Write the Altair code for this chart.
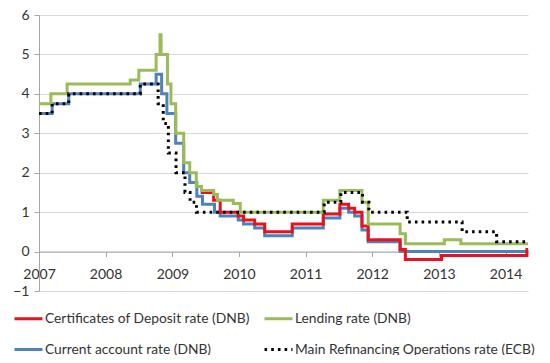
import altair as alt
import pandas as pd

series_names = [
    "Certificates of Deposit rate (DNB)",
    "Lending rate (DNB)",
    "Current account rate (DNB)",
    "Main Refinancing Operations rate (ECB)",
]
series_colors = ["#E3141B", "#9BBB59", "#4F81BD", "#000000"]
series_dashes = [[1, 0], [1, 0], [1, 0], [2.6, 4.1]]
draw_order = [2, 0, 1, 3]

cd_dates = ["2009-06-05", "2009-08-15", "2009-09-20", "2009-12-28", "2010-01-26",
            "2010-03-28", "2010-05-22", "2010-10-20", "2011-04-08", "2011-07-08",
            "2011-08-25", "2011-09-27", "2011-11-06", "2011-12-10", "2012-06-02",
            "2012-07-01", "2013-01-15", "2014-04-28", "2014-05-04"]
cd_values = [1.5, 1.3, 1.0, 0.9, 0.8, 0.7, 0.5, 0.7, 0.95, 1.2, 1.1, 1.0, 0.65, 0.3,
             0.05, -0.2, -0.1, 0.05, 0.05]

lend_dates = ["2007-01-01", "2007-03-07", "2007-06-04", "2008-05-15", "2008-07-01",
              "2008-10-04", "2008-10-25", "2008-10-31", "2008-12-05", "2008-12-24",
              "2009-01-19", "2009-03-04", "2009-04-06", "2009-05-12", "2009-06-10",
              "2009-08-15", "2009-09-05", "2009-12-01", "2010-01-08", "2011-04-08",
              "2011-07-08", "2011-11-06", "2011-12-10", "2012-06-02", "2012-07-01",
              "2013-01-30", "2013-05-01", "2014-05-04"]
lend_values = [3.75, 4.0, 4.25, 4.35, 4.6, 5.0, 5.5, 5.0, 4.25, 3.75, 3.0, 2.25, 2.0,
               1.65, 1.55, 1.45, 1.3, 1.22, 1.0, 1.3, 1.55, 1.25, 0.7, 0.45, 0.2,
               0.3, 0.2, 0.2]

ca_dates = ["2007-01-01", "2007-03-14", "2007-06-13", "2008-07-09", "2008-10-04",
            "2008-11-03", "2008-12-02", "2009-01-19", "2009-03-04", "2009-04-06",
            "2009-05-15", "2009-06-15", "2009-08-20", "2009-09-20", "2009-12-28",
            "2010-01-26", "2010-03-28", "2010-05-22", "2010-10-20", "2011-04-08",
            "2011-07-08", "2011-08-25", "2011-09-27", "2011-11-06", "2011-12-10",
            "2012-06-02", "2014-05-04"]
ca_values = [3.5, 3.75, 4.0, 4.25, 4.5, 4.0, 3.5, 2.75, 2.0, 1.75, 1.4, 1.2, 1.0, 0.9,
             0.8, 0.7, 0.6, 0.4, 0.6, 0.85, 1.1, 1.0, 0.9, 0.55, 0.25, 0.0, 0.0]

mro_dates = ["2007-01-01", "2007-03-14", "2007-06-13", "2008-07-09", "2008-10-15",
             "2008-11-12", "2008-12-10", "2009-01-21", "2009-03-11", "2009-04-08",
             "2009-05-13", "2011-04-13", "2011-07-13", "2011-11-09", "2011-12-14",
             "2012-07-11", "2013-05-08", "2013-11-13", "2014-05-04"]
mro_values = [3.5, 3.75, 4.0, 4.25, 3.75, 3.25, 2.5, 2.0, 1.5, 1.25, 1.0, 1.25, 1.5,
              1.25, 1.0, 0.75, 0.5, 0.25, 0.25]

y_ticks = [-1, 0, 1, 2, 3, 4, 5, 6]

all_dates = [cd_dates, lend_dates, ca_dates, mro_dates]
all_values = [cd_values, lend_values, ca_values, mro_values]
rows = []
for name, ds, vs in zip(series_names, all_dates, all_values):
    for d, v in zip(ds, vs):
        rows.append({"series": name, "date": d + "T00:00:00", "value": v})
df = pd.DataFrame(rows)

FONT = "Lato"
legend = alt.Legend(
    orient="none", legendX=-26, legendY=288, columns=2, direction="horizontal",
    columnPadding=8, rowPadding=8, symbolType="stroke", symbolSize=784,
    symbolStrokeWidth=3, labelFontSize=13.8, labelFont=FONT, labelColor="#333333",
    labelOffset=1, labelLimit=400,
)

base = alt.Chart(df).encode(
    x=alt.X("date:T",
            scale=alt.Scale(domain=[alt.DateTime(year=2007, month=1, date=1),
                                    alt.DateTime(year=2014, month=5, date=4)], nice=False),
            axis=alt.Axis(title=None, format="%Y", tickCount="year", offset=-39.5,
                          grid=False, domainColor="#A6A6A6", tickColor="#A6A6A6",
                          tickSize=5, labelPadding=11, labelFontSize=14, labelFont=FONT,
                          labelColor="#333333", labelFlush=False)),
    y=alt.Y("value:Q", scale=alt.Scale(domain=[-1, 6], nice=False),
            axis=alt.Axis(title=None, values=y_ticks, gridColor="#D9D9D9",
                          domainColor="#A6A6A6", tickColor="#A6A6A6", tickSize=5,
                          labelPadding=5, labelFontSize=14, labelFont=FONT,
                          labelColor="#333333")),
    color=alt.Color("series:N", title=None, sort=series_names,
                    scale=alt.Scale(domain=series_names, range=series_colors),
                    legend=legend),
    strokeDash=alt.StrokeDash("series:N", title=None, sort=series_names,
                              scale=alt.Scale(domain=series_names, range=series_dashes),
                              legend=legend),
)

layers = []
for i in draw_order:
    layers.append(
        base.transform_filter(alt.datum.series == series_names[i])
        .mark_line(interpolate="step-after", strokeWidth=3)
    )

chart = alt.layer(*layers).properties(
    width=489, height=276, autosize="none",
    padding={"left": 31, "top": 7, "right": 14, "bottom": 64},
).configure_view(strokeWidth=0)

chart.save("out.html", embed_options={"renderer": "svg", "actions": False})
